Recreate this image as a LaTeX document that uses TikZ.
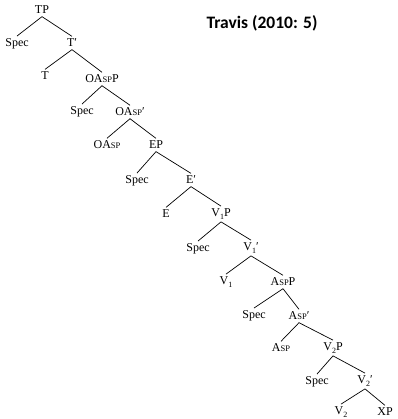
\documentclass[tikz,border=0pt]{standalone}
\usepackage{fontspec}
\setmainfont{Liberation Serif}
\newfontfamily\titlefont{Carlito}
\newcommand{\fakesc}[1]{{\fontsize{8.5}{8.5}\selectfont #1}}
\newcommand{\lowered}[1]{\raisebox{-0.45ex}{\fontsize{8}{8}\selectfont #1}}
\newcommand{\xbar}{\char"2032}

\begin{document}
\begin{tikzpicture}[x=1pt, y=-1pt,
    label/.style = {inner sep = 2.5pt, font = \fontsize{12}{12}\selectfont},
    branch/.style = {line width = 0.7pt}]
  \useasboundingbox (0,0) rectangle (397,419);
  % heading
  \node[font = \titlefont\bfseries\fontsize{17.5}{17.5}\selectfont] (title) at (262,23) {Travis (2010: 5)};
  % spine of the tree, top to bottom
  \node[label] (tp)    at (42,10)   {TP};
  \node[label] (spec1) at (17,44)   {Spec};
  \node[label] (tbar)  at (72,43)   {T\xbar};
  \node[label] (t)     at (45,76)   {T};
  \node[label] (oaspp) at (102,79)  {OA\fakesc{SP}P};
  \node[label] (spec2) at (82,112)  {Spec};
  \node[label] (oaspbar) at (130,112) {OA\fakesc{SP}\xbar};
  \node[label] (oasp)  at (107,145) {OA\fakesc{SP}};
  \node[label] (ep)    at (156,145) {EP};
  \node[label] (spec3) at (137,181) {Spec};
  \node[label] (ebar)  at (191,180) {E\xbar};
  \node[label] (e)     at (166,214) {E};
  \node[label] (vonep) at (221,214) {V\lowered{1}P};
  \node[label] (spec4) at (198,249) {Spec};
  \node[label] (vonebar) at (251,248) {V\lowered{1}\xbar};
  \node[label] (vone)  at (226,282) {V\lowered{1}};
  \node[label] (aspp)  at (283,282) {A\fakesc{SP}P};
  \node[label] (spec5) at (254,316) {Spec};
  \node[label] (aspbar) at (299,316) {A\fakesc{SP}\xbar};
  \node[label] (asp)   at (281,348) {A\fakesc{SP}};
  \node[label] (vtwop) at (333,348) {V\lowered{2}P};
  \node[label] (spec6) at (317,382) {Spec};
  \node[label] (vtwobar) at (365,381) {V\lowered{2}\xbar};
  \node[label] (vtwo)  at (341,412) {V\lowered{2}};
  \node[label] (xp)    at (385,412) {XP};
  % branches
  \foreach \mother/\daughter in {tp/spec1, tp/tbar, tbar/t, tbar/oaspp,
      oaspp/spec2, oaspp/oaspbar, oaspbar/oasp, oaspbar/ep,
      ep/spec3, ep/ebar, ebar/e, ebar/vonep,
      vonep/spec4, vonep/vonebar, vonebar/vone, vonebar/aspp,
      aspp/spec5, aspp/aspbar, aspbar/asp, aspbar/vtwop,
      vtwop/spec6, vtwop/vtwobar, vtwobar/vtwo, vtwobar/xp}
    \draw[branch] (\mother.south) -- (\daughter.north);
\end{tikzpicture}
\end{document}
